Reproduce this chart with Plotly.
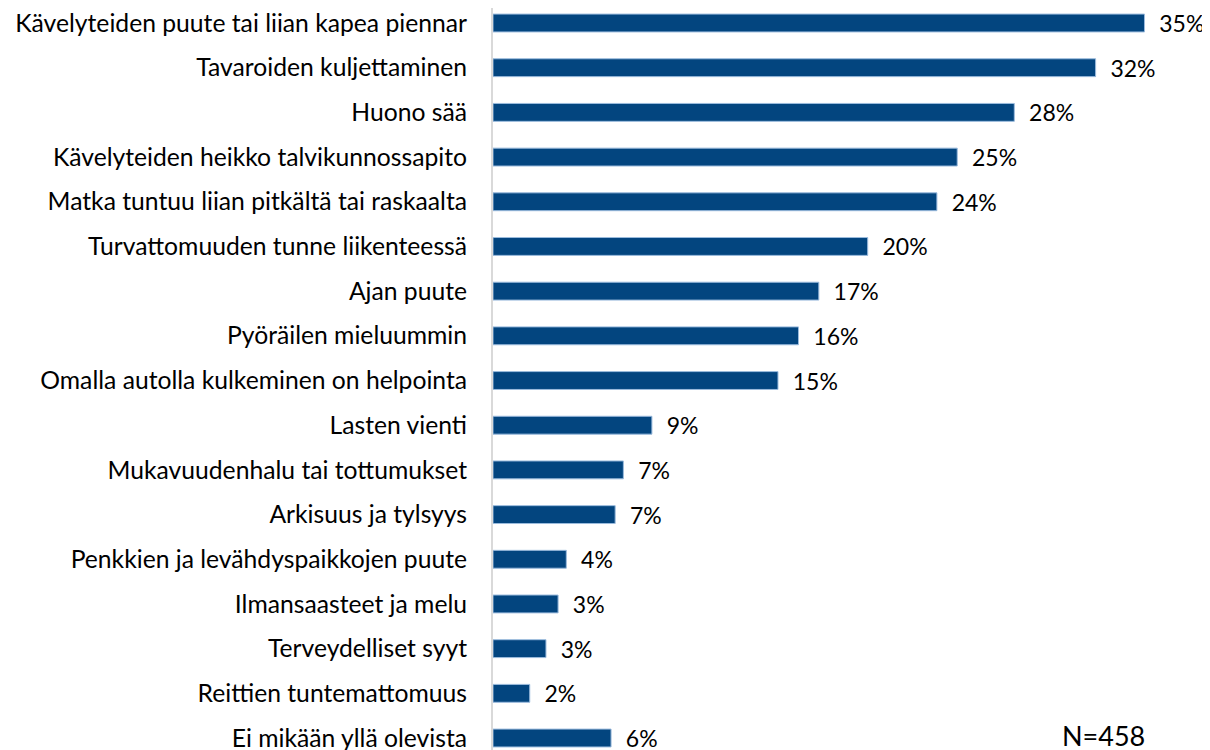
import plotly.graph_objects as go

categories = [
    "Kävelyteiden puute tai liian kapea piennar",
    "Tavaroiden kuljettaminen",
    "Huono sää",
    "Kävelyteiden heikko talvikunnossapito",
    "Matka tuntuu liian pitkältä tai raskaalta",
    "Turvattomuuden tunne liikenteessä",
    "Ajan puute",
    "Pyöräilen mieluummin",
    "Omalla autolla kulkeminen on helpointa",
    "Lasten vienti",
    "Mukavuudenhalu tai tottumukset",
    "Arkisuus ja tylsyys",
    "Penkkien ja levähdyspaikkojen puute",
    "Ilmansaasteet ja melu",
    "Terveydelliset syyt",
    "Reittien tuntemattomuus",
    "Ei mikään yllä olevista",
]
values = [34.93, 32.31, 27.95, 24.89, 23.80, 20.09, 17.47, 16.38, 15.28,
          8.52, 6.99, 6.55, 3.93, 3.49, 2.84, 1.97, 6.33]
value_labels = ["35%", "32%", "28%", "25%", "24%", "20%", "17%", "16%", "15%",
                "9%", "7%", "7%", "4%", "3%", "3%", "2%", "6%"]
n_text = "N=458"

FONT = "Lato, 'Open Sans', sans-serif"

# page has an 8px body margin, so the figure is sized 8px smaller
W, H = 1202, 742
ML, MR = 485, 9

fig = go.Figure(go.Bar(
    x=values,
    y=categories,
    orientation="h",
    marker=dict(color="#03457F", line=dict(color="#9BBBDD", width=1)),
    text=["\u00a0\u00a0" + t for t in value_labels],
    textposition="outside",
    constraintext="none",
    cliponaxis=False,
    textfont=dict(family=FONT, size=23, color="#000000"),
    hoverinfo="skip",
))

fig.update_layout(
    width=W, height=H,
    margin=dict(l=ML, r=MR, t=0, b=0),
    paper_bgcolor="white", plot_bgcolor="white",
    bargap=0.6,
    showlegend=False,
    xaxis=dict(range=[0, 37.96], visible=False, showgrid=False, zeroline=False),
    yaxis=dict(
        type="category",
        range=[16.268, -0.336],
        automargin=False,
        showline=True, linecolor="#D9D9D9", linewidth=2,
        showgrid=False, zeroline=False,
        ticks="outside", ticklen=19, tickcolor="rgba(0,0,0,0)",
        tickfont=dict(family=FONT, size=24.7, color="#000000"),
    ),
    annotations=[dict(
        text=n_text, xref="paper", yref="paper",
        x=(1095.5 - ML) / (W - ML - MR), y=(H - 727.5) / H,
        xanchor="center", yanchor="middle", showarrow=False,
        font=dict(family=FONT, size=27, color="#000000"),
    )],
)

fig.write_html("out.html")
